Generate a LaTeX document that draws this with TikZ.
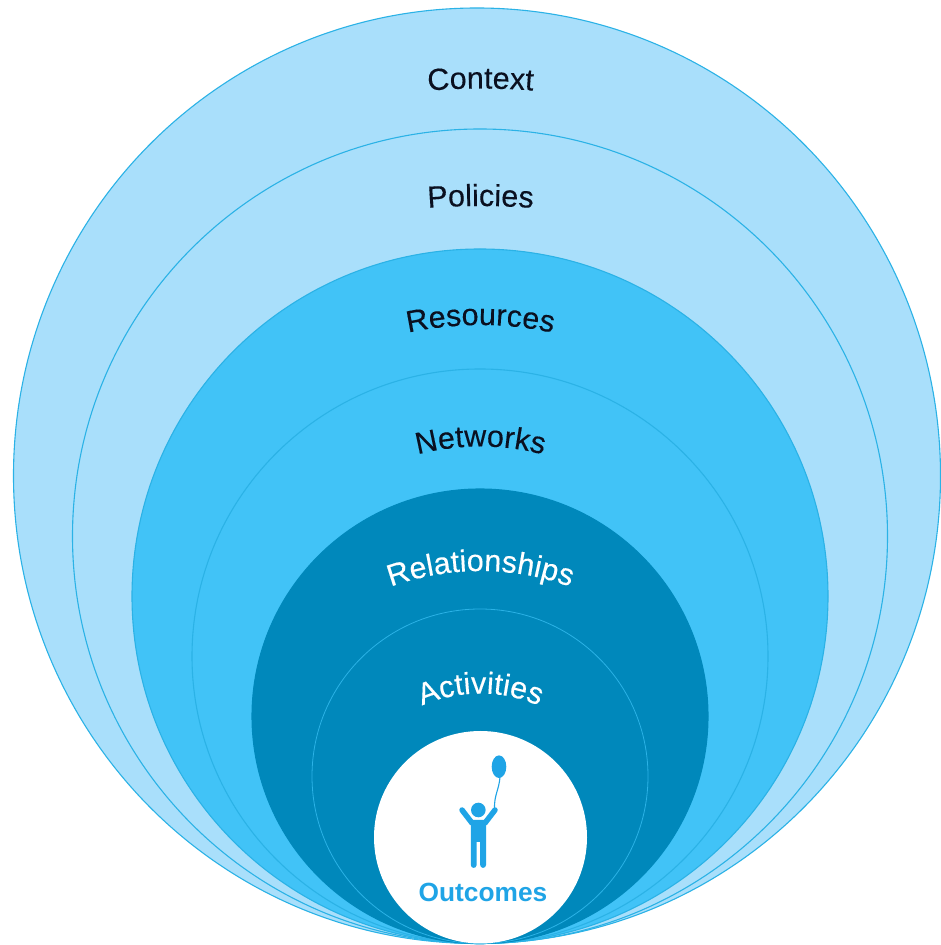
\documentclass[tikz,border=0pt]{standalone}
\usepackage{fontspec}
\usetikzlibrary{decorations.text}
\newfontfamily\lab[FakeBold=0.25]{Liberation Sans}
\newfontfamily\labb{Liberation Sans}
\definecolor{ringlight}{HTML}{A9DFFB}
\definecolor{ringmid}{HTML}{41C3F7}
\definecolor{ringdark}{HTML}{0088BB}
\definecolor{ringline}{HTML}{2BB2E6}
\definecolor{figblue}{HTML}{1FA4E6}
\definecolor{inkblack}{HTML}{0A1020}
\newcommand{\lblf}{\lab\fontsize{30.5}{30.5}\selectfont}
% text, baseline y in reference px at centre, radius, colour
\newcommand{\curvlabel}[4]{%
  \path[decorate,decoration={text along path,text={|\lblf|#1},text align=center,text color=#4}]
    (480.5,{945-#2-#3}) ++(135:#3) arc[start angle=135,end angle=45,radius=#3];}
\tikzset{
  ring/.style={draw=ringline,line width=1.1pt},
  figpart/.style={fill=figblue,draw=none},
}
\begin{document}
\begin{tikzpicture}[x=1pt,y=1pt]
\path[use as bounding box,clip] (0,0) rectangle (941,945);
\fill[white] (0,0) rectangle (941,945);
% rings: all tangent at the bottom
\path[ring,fill=ringlight] (477,469.25) ellipse[x radius=463.5,y radius=467.75];
\path[ring,fill=ringlight] (480,408.75) ellipse[x radius=407.5,y radius=407.25];
\path[ring,fill=ringmid]   (480,348.75) ellipse[x radius=348,y radius=347.25];
\path[ring,fill=ringmid]   (480,288.75) ellipse[x radius=288,y radius=287.25];
\path[ring,draw=ringdark,fill=ringdark]  (480,228.75) ellipse[x radius=228,y radius=227.25];
\path[ring,line width=0.8pt,fill=ringdark]  (480,168.75) ellipse[x radius=168,y radius=167.25];
\path[fill=white] (480.5,107.75) ellipse[x radius=106.5,y radius=106.25];
% labels
\curvlabel{Context}{88.5}{650}{inkblack}
\curvlabel{Policies}{206}{700}{inkblack}
\curvlabel{Resources}{325}{340}{inkblack}
\curvlabel{Networks}{446.5}{250}{inkblack}
\curvlabel{Relationships}{571}{262}{white}
\curvlabel{Activities}{693.5}{145}{white}
% figure (reference y measured from the top)
\begin{scope}[shift={(0,945)},y=-1pt]
  \fill[figpart] (478.3,810) circle[radius=7.3];
  \fill[figpart] (499,766.7) ellipse[x radius=7.3,y radius=11.3];
  \draw[figblue,line width=1.1pt] (500,777) .. controls (499,790) and (494,795) .. (494.5,809);
  \draw[figblue,line width=5.5pt,line cap=round,line join=round]
     (462,810) -- (472,823) (495,810) -- (485,823);
  \fill[figpart] (470.8,820) -- (486,820) -- (486,865) arc[start angle=0,end angle=180,radius=2.9]
     -- (480.2,842) -- (476.6,842) -- (476.6,865) arc[start angle=0,end angle=180,radius=2.9] -- cycle;
\end{scope}
\node[font=\labb\bfseries\fontsize{26.3}{26.3}\selectfont,text=figblue,inner sep=0pt,anchor=base] (outcomes) at (483,43.5) {Outcomes};
\end{tikzpicture}
\end{document}
